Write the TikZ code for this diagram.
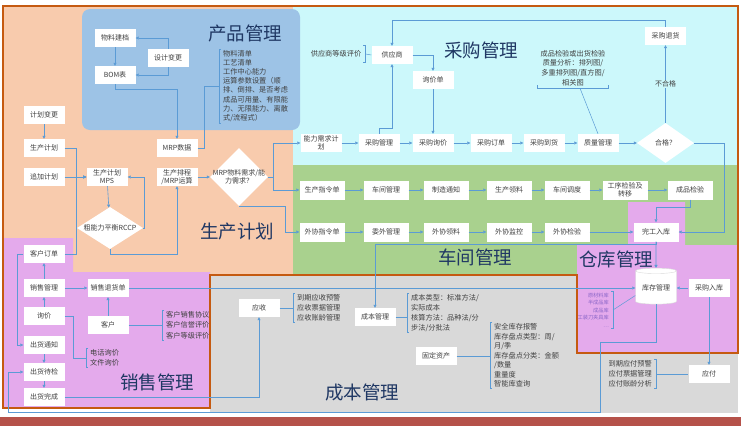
\documentclass[tikz,border=0pt]{standalone}
\usepackage{fontspec}
\setmainfont{Noto Sans CJK SC}
\usepackage{xcolor}
\usepackage{tikz}
\usetikzlibrary{
	arrows.meta,
	shapes.geometric
}
\definecolor{peach}{HTML}{F8CBAD}
\definecolor{prodblue}{HTML}{9DC3E6}
\definecolor{cyanbg}{HTML}{CCF8FB}
\definecolor{greenbg}{HTML}{A9D18E}
\definecolor{purplebg}{HTML}{E4AAEC}
\definecolor{graybg}{HTML}{D9D9D9}
\definecolor{framecol}{HTML}{C55A11}
\definecolor{redbar}{HTML}{B5524A}
\definecolor{linkblue}{HTML}{5B9BD5}
\definecolor{navy}{HTML}{203864}
\definecolor{txtgray}{HTML}{404040}
\definecolor{invpurple}{HTML}{8A66C8}
\tikzset{
	every edge/.append style={
		draw=linkblue, line width=0.6pt, -{Triangle[length=3pt,width=3pt]}
	},
	link/.style={
		draw=linkblue, line width=0.6pt, -{Triangle[length=3pt,width=3pt]}
	},
	brk/.style={
		draw=linkblue, line width=0.5pt
	},
	frame/.style={
		draw=framecol, line width=2pt
	},
	box/.style={
		fill=white, minimum width=41pt, minimum height=18pt, inner sep=1pt,
		align=center, text=txtgray, font=\fontsize{7}{8}\selectfont
	},
	wbox/.style={
		box, minimum width=45pt, minimum height=19pt
	},
	dmd/.style={
		diamond, fill=white, inner sep=0pt, align=center,
		text=txtgray, font=\fontsize{7}{8}\selectfont
	},
	cyl/.style={
		cylinder, shape border rotate=90, aspect=0.18, fill=white, draw=black!15,
		minimum width=41pt, minimum height=36pt, inner sep=1pt,
		text=txtgray, font=\fontsize{7}{8}\selectfont
	},
	lst/.style={
		inner sep=1pt, text=txtgray, font=\fontsize{7.2}{9.8}\selectfont
	},
	ttl/.style={
		text=navy, font=\fontsize{18.5}{20}\selectfont
	},
	lbl/.style={
		fill=cyanbg, inner sep=1pt, text=txtgray, font=\fontsize{7}{8}\selectfont
	}
}

\begin{document}
\begin{tikzpicture}[x=1pt,y=-1pt]
	\useasboundingbox (0,0) rectangle (741,426);
	\fill [white]    (0,0)     rectangle (741,426);
	\fill [redbar]   (0,417)   rectangle (741,426);
	\fill [graybg]   (210,275) rectangle (738,413);
	\fill [peach]    (3,6)     rectangle (293,275);
	\fill [cyanbg]   (293,6)   rectangle (738,165);
	\fill [greenbg]  (293,165) rectangle (738,275);
	\fill [purplebg] (3,238) -- (73,238) -- (73,272) -- (210,272) -- (210,408) -- (3,408) -- cycle;
	\fill [purplebg] (628,202) -- (685,202) -- (685,245) -- (738,245) -- (738,353)
		-- (577,353) -- (577,245) -- (628,245) -- cycle;
	\fill [prodblue, rounded corners=8pt] (82,9) rectangle (300,130);
	\draw [frame] (3,6) -- (738,6) -- (738,353) -- (577,353) -- (577,275)
		-- (210,275) -- (210,408) -- (3,408) -- cycle;

	\draw
		node [ttl] (tcp) at (245,33)  {产品管理}
		node [ttl] (tcg) at (481,50)  {采购管理}
		node [ttl] (tsc) at (237,232) {生产计划}
		node [ttl] (tcj) at (475,257) {车间管理}
		node [ttl] (tck) at (616,259) {仓库管理}
		node [ttl] (txs) at (157,382) {销售管理}
		node [ttl] (tcb) at (362,392) {成本管理}

		node [box] (wljd) at (115,38)  {物料建档}
		node [box] (sjbg) at (168,58)  {设计变更}
		node [box] (bom)  at (115,75)  {BOM表}
		node [box] (mrpd) at (177,148) {MRP数据}

		node [box] (jhbg) at (44,115)  {计划变更}
		node [box] (scjh) at (44,148)  {生产计划}
		node [box] (zjjh) at (44,177)  {追加计划}
		node [box] (mps)  at (107,177) {生产计划\\MPS}
		node [box] (scpc) at (177,177) {生产排程\\/MRP运算}
		node [dmd, minimum width=66pt, minimum height=42pt, aspect=1.57] (rccp) at (110,228)
			{\makebox[30pt]{粗能力平衡RCCP}}
		node [dmd, minimum width=58pt, minimum height=58pt, aspect=1] (mrp) at (239,177)
			{\makebox[24pt]{MRP物料需求/能}\\\makebox[24pt]{力需求？}}

		node [box] (nlxq) at (321,143)   {能力需求计\\划}
		node [box] (cggl) at (379,143)   {采购管理}
		node [box] (cgxj) at (433,143)   {采购询价}
		node [box] (cgdd) at (491,143)   {采购订单}
		node [box] (cgdh) at (544,143)   {采购到货}
		node [box] (zlgl) at (598,143)   {质量管理}
		node [dmd, minimum width=57pt, minimum height=40pt, aspect=1.42] (hg) at (665.5,143) {合格？}
		node [box] (cgth) at (665.5,36)  {采购退货}
		node [box] (gys)  at (392,55)    {供应商}
		node [box] (xjd)  at (433,80)    {询价单}

		node [wbox] (sczl) at (322,190) {生产指令单}
		node [wbox] (cjgl) at (386,190) {车间管理}
		node [wbox] (zztz) at (446,190) {制造通知}
		node [wbox] (scll) at (509,190) {生产领料}
		node [wbox] (cjdd) at (567,190) {车间调度}
		node [wbox] (gxjy) at (625,190) {工序检验及\\转移}
		node [wbox] (cpjy) at (690,190) {成品检验}
		node [wbox] (wxzl) at (322,232) {外协指令单}
		node [wbox] (wwgl) at (386,232) {委外管理}
		node [wbox] (wxll) at (446,232) {外协领料}
		node [wbox] (wxjk) at (509,232) {外协监控}
		node [wbox] (wxjy) at (567,232) {外协检验}
		node [wbox] (wgrk) at (656,232) {完工入库}

		node [cyl] (kcgl) at (656,288) {库存管理}
		node [box] (cgrk) at (709,288) {采购入库}
		node [box] (yf)   at (709,374) {应付}

		node [box] (khdd) at (44,254)  {客户订单}
		node [box] (xsgl) at (44,288)  {销售管理}
		node [box] (xsth) at (108,288) {销售退货单}
		node [box] (xj)   at (44,316)  {询价}
		node [box] (kh)   at (108,325) {客户}
		node [box] (chtz) at (44,345)  {出货通知}
		node [box] (chdj) at (44,372)  {出货待检}
		node [box] (chwc) at (44,397)  {出货完成}

		node [box] (ys)   at (259,308) {应收}
		node [box] (cbgl) at (375,317) {成本管理}
		node [box] (gdzc) at (436,356) {固定资产}

		node [lst, anchor=west, align=left, font=\fontsize{7.2}{9.2}\selectfont] (pinfo) at (222,86)
			{物料清单\\工艺清单\\工作中心能力\\运算参数设置（顺\\排、倒排、是否考虑\\成品可用量、有限能\\力、无限能力、离散\\式/流程式）}
		node [lst, minimum height=17pt] (gyspj) at (336,54) {供应商等级评价}
		node [lst, align=center, minimum width=71pt, inner ysep=2pt] (zlfx) at (573,68)
			{成品检验或出货检验\\质量分析：排列图/\\多重排列图/直方图/\\相关图}
		node [lst, anchor=west, align=left] (dhxj) at (89,358) {电话询价\\文件询价}
		node [lst, anchor=west, align=left, font=\fontsize{7.2}{10.5}\selectfont] (khxy) at (165,325)
			{客户销售协议\\客户信誉评价\\客户等级评价}
		node [lst, anchor=west, align=left] (ysyj) at (296,308) {到期应收预警\\应收票据管理\\应收账龄管理}
		node [lst, anchor=west, align=left] (cblx) at (410,313)
			{成本类型：标准方法/\\实际成本\\核算方法：品种法/分\\步法/分批法}
		node [lst, anchor=west, align=left, font=\fontsize{7.2}{9.5}\selectfont] (aqkc) at (493,355.5)
			{安全库存报警\\库存盘点类型：周/\\月/季\\库存盘点分类：金额\\/数量\\重量度\\智能库查询}
		node [lst, anchor=east, align=right, text=invpurple, font=\fontsize{5.2}{7.5}\selectfont] (ycl) at (610,310)
			{原材料库\\半成品库\\成品库\\工装刀夹具库\\…}
		node [lst, anchor=east, align=right] (yfyj) at (653,374) {到期应付预警\\应付票据管理\\应付账龄分析}

		(jhbg) edge (scjh)
		(zjjh) edge (mps)
		(mps)  edge (rccp)
		(scpc) edge (mrp)
		(wljd) edge (bom)

		(nlxq) edge (cggl)
		(cggl) edge (cgxj)
		(cgxj) edge (cgdd)
		(cgdd) edge (cgdh)
		(cgdh) edge (zlgl)
		(zlgl) edge (hg)
		(xjd)  edge (cgxj)
		(hg)   edge node [lbl] {不合格} (cgth)

		(sczl) edge (cjgl)
		(cjgl) edge (zztz)
		(zztz) edge (scll)
		(scll) edge (cjdd)
		(cjdd) edge (gxjy)
		(gxjy) edge (cpjy)
		(wxzl) edge (wwgl)
		(wwgl) edge (wxll)
		(wxll) edge (wxjk)
		(wxjk) edge (wxjy)
		(wxjy) edge (wgrk)
		(wgrk) edge (kcgl)

		(cgrk) edge (kcgl)
		(cgrk) edge (yf)
		(xsth) edge (kcgl)

		(xsgl) edge (khdd)
		(xj)   edge (xsgl)
		(chtz) edge (chdj)
		(chdj) edge (chwc)
		(xsgl) edge (xsth)
		(kh)   edge (xsth)
	;

	\draw [link] (sjbg.north) |- (wljd.east);
	\draw [link] (sjbg.south) |- (bom.east);
	\draw [link] (bom.south) -- ++(0,5) -| (mrpd.north);
	\draw [link] (scjh.east) -| ([xshift=-10pt]mps.west) -- (mps.west);
	\draw [link] (khdd.east) -| ([xshift=-10pt]mps.west) -- (mps.west);
	\draw [link] (rccp.east) -- ++(1,0) |- (mps.east);
	\draw [link] (rccp.south) -- ++(0,5) -| (scpc.south);
	\draw [link] (mrp.east) -- ++(5,0) |- (nlxq.west);
	\draw [link] (mrp.east) -- ++(5,0) |- (sczl.west);
	\draw [link] (mrp.south) -- ++(46,0) |- (wxzl.west);

	\draw [link] (cggl.north) -- ++(0,-6) -| (gys.south);
	\draw [link] (gys.east) -| (xjd.north);
	\draw [link] (cgth.north) -- ++(0,-7) -| (gys.north);
	\draw [link] (hg.east) -- ++(30,0) |- (wgrk.east);
	\draw [link] (cpjy.south) -- ++(0,8) -| (wgrk.north);
	\draw [link] (wgrk.south) -- ++(0,3) -| (cbgl.north);
	\draw [link] (kcgl.south) -- ++(0,38) -- ++(-56,0) -- ++(0,70)
		-| ([xshift=-15pt]chdj.west) -- (chdj.west);
	\draw [link] (chwc.east) -| (ys.south);
	\draw [link] (khdd.west) -- ++(-6,0) |- (chtz.west);

	\draw [brk] (mrpd.east) -| ([xshift=-18pt]pinfo.west) -- ([xshift=-3pt]pinfo.west);
	\draw [brk] ([xshift=-1pt]pinfo.north west) -| ([xshift=-3pt]pinfo.south west) -- ([xshift=-1pt]pinfo.south west);
	\draw [brk] ([xshift=1pt]gyspj.north east) -| ([xshift=3pt]gyspj.south east) -- ([xshift=1pt]gyspj.south east);
	\draw [brk] ([xshift=3pt]gyspj.east) -- (gys.west);
	\draw [brk] ([yshift=3pt]zlfx.south west) -- (zlfx.south west) -- (zlfx.south east) -- ([yshift=3pt]zlfx.south east);
	\draw [brk] ([xshift=7pt]zlfx.south) -- (zlgl.north);
	\draw [brk] (xj.east) -| ([xshift=-16pt]dhxj.west) -- ([xshift=-3pt]dhxj.west);
	\draw [brk] ([xshift=-1pt]dhxj.north west) -| ([xshift=-3pt]dhxj.south west) -- ([xshift=-1pt]dhxj.south west);
	\draw [brk] (kh.east) -- ([xshift=-3pt]khxy.west);
	\draw [brk] ([xshift=-1pt]khxy.north west) -| ([xshift=-3pt]khxy.south west) -- ([xshift=-1pt]khxy.south west);
	\draw [brk] (ys.east) -- ([xshift=-3pt]ysyj.west);
	\draw [brk] ([xshift=-1pt]ysyj.north west) -| ([xshift=-3pt]ysyj.south west) -- ([xshift=-1pt]ysyj.south west);
	\draw [brk] (cbgl.east) -- ([xshift=-3pt]cblx.west |- cbgl.east);
	\draw [brk] ([xshift=-1pt]cblx.north west) -| ([xshift=-3pt]cblx.south west) -- ([xshift=-1pt]cblx.south west);
	\draw [brk] (gdzc.east) -- ([xshift=-3pt]aqkc.west |- gdzc.east);
	\draw [brk] ([xshift=-1pt]aqkc.north west) -| ([xshift=-3pt]aqkc.south west) -- ([xshift=-1pt]aqkc.south west);
	\draw [brk] ([xshift=3pt]ycl.east) -- (kcgl.200);
	\draw [brk] ([xshift=1pt]ycl.north east) -| ([xshift=3pt]ycl.south east) -- ([xshift=1pt]ycl.south east);
	\draw [brk] ([xshift=3pt]yfyj.east) -- (yf.west);
	\draw [brk] ([xshift=1pt]yfyj.north east) -| ([xshift=3pt]yfyj.south east) -- ([xshift=1pt]yfyj.south east);
\end{tikzpicture}
\end{document}
